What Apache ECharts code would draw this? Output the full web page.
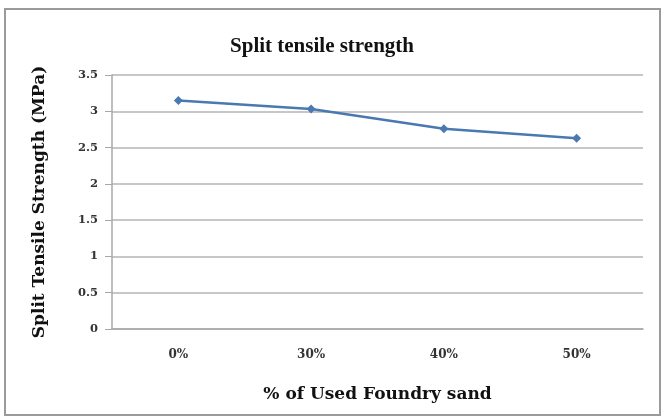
<!DOCTYPE html>
<html>
<head>
<meta charset="utf-8">
<script src="https://cdn.jsdelivr.net/npm/echarts@6/dist/echarts.min.js"></script>
<style>
  html, body { margin: 0; padding: 0; background: #ffffff; }
  #chart { width: 665px; height: 419px; }
</style>
</head>
<body>
<div id="chart"></div>
<script>
// Replacement level of used foundry sand
var categories = ['0%', '30%', '40%', '50%'];
// Split tensile strength in MPa
var strength = [3.15, 3.03, 2.76, 2.63];
// Value axis ticks
var yMin = 0, yMax = 3.5, yStep = 0.5;

var serif = '"DejaVu Serif", "Liberation Serif", serif';
var titleSerif = '"Liberation Serif", "DejaVu Serif", serif';
var chart = echarts.init(document.getElementById('chart'), null, { renderer: 'canvas' });

chart.setOption({
  backgroundColor: '#ffffff',
  animation: false,
  graphic: [{
    type: 'rect',
    shape: { x: 5, y: 9, width: 655, height: 406 },
    style: { fill: 'none', stroke: '#9a9a9a', lineWidth: 2 },
    z: -1
  }],
  title: {
    text: 'Split tensile strength',
    left: 317,
    top: 31,
    textAlign: 'center',
    textStyle: { fontFamily: titleSerif, fontWeight: 'bold', fontSize: 21, color: '#111' }
  },
  grid: { left: 112, right: 22, top: 75, bottom: 90, containLabel: false },
  xAxis: {
    type: 'category',
    data: categories,
    boundaryGap: true,
    name: '% of Used Foundry sand',
    nameLocation: 'middle',
    nameGap: 57,
    nameTextStyle: { fontFamily: serif, fontWeight: 'bold', fontSize: 17, color: '#111' },
    axisLine: { lineStyle: { color: '#a8a8a8', width: 1.5 } },
    axisTick: { show: false },
    axisLabel: { fontFamily: serif, fontWeight: 'bold', fontSize: 12, color: '#333', margin: 20 },
    splitLine: { show: false }
  },
  yAxis: {
    type: 'value',
    min: yMin,
    max: yMax,
    interval: yStep,
    name: 'Split Tensile Strength (MPa)',
    nameLocation: 'middle',
    nameGap: 64,
    nameTextStyle: { fontFamily: serif, fontWeight: 'bold', fontSize: 17, color: '#111' },
    axisLine: { show: true, lineStyle: { color: '#a8a8a8', width: 1.5 } },
    axisTick: { show: true, length: 7, lineStyle: { color: '#a8a8a8' } },
    axisLabel: { fontFamily: serif, fontWeight: 'bold', fontSize: 11.5, color: '#333', margin: 14 },
    splitLine: { show: true, lineStyle: { color: '#b4b4b4', width: 1.5 } }
  },
  series: [{
    type: 'line',
    data: strength,
    symbol: 'diamond',
    symbolSize: 9,
    lineStyle: { color: '#4a78b0', width: 2.5 },
    itemStyle: { color: '#4a78b0' }
  }]
});
</script>
</body>
</html>
